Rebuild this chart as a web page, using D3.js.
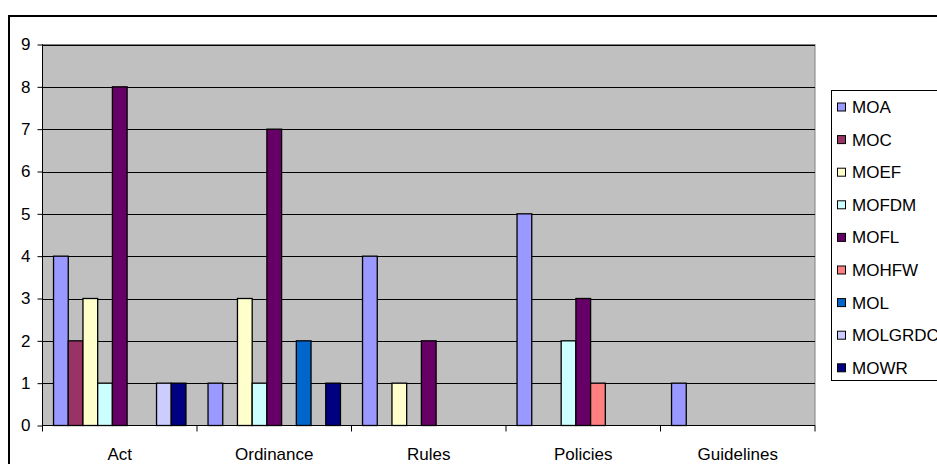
<!DOCTYPE html>
<html>
<head>
<meta charset="utf-8">
<script src="https://cdn.jsdelivr.net/npm/d3@7"></script>
<style>
  html, body { margin: 0; padding: 0; background: #fff; }
  svg { display: block; font-family: Arial, "Liberation Sans", sans-serif; }
</style>
</head>
<body>
<svg id="chart" width="937" height="464"></svg>
<script>
// Document types along the x axis
const categories = ["Act", "Ordinance", "Rules", "Policies", "Guidelines"];
// Ministries (one bar each per document type)
const seriesNames = ["MOA", "MOC", "MOEF", "MOFDM", "MOFL", "MOHFW", "MOL", "MOLGRDC", "MOWR"];
const seriesColors = ["#9999FF", "#993366", "#FFFFCC", "#CCFFFF", "#660066", "#FF8080", "#0066CC", "#CCCCFF", "#000080"];
// Counts per ministry, in category order
const MOA     = [4, 1, 4, 5, 1];
const MOC     = [2, 0, 0, 0, 0];
const MOEF    = [3, 3, 1, 0, 0];
const MOFDM   = [1, 1, 0, 2, 0];
const MOFL    = [8, 7, 2, 3, 0];
const MOHFW   = [0, 0, 0, 1, 0];
const MOL     = [0, 2, 0, 0, 0];
const MOLGRDC = [1, 0, 0, 0, 0];
const MOWR    = [1, 1, 0, 0, 0];
const seriesValues = [MOA, MOC, MOEF, MOFDM, MOFL, MOHFW, MOL, MOLGRDC, MOWR];
const yTicks = [0, 1, 2, 3, 4, 5, 6, 7, 8, 9];

const FONT = 17;
const svg = d3.select("#chart");

// Outer frame
svg.append("rect")
  .attr("x", 9).attr("y", 16)
  .attr("width", 960).attr("height", 480)
  .attr("fill", "#fff").attr("stroke", "#000").attr("stroke-width", 2);

const plot = { left: 42.5, right: 815, top: 44.5, bottom: 425.5 };

const x0 = d3.scaleBand().domain(categories).range([plot.left, plot.right]).paddingInner(0).paddingOuter(0);
// Bar slots: 9 bars plus a gap of 1.5 bar widths per group
const barW = x0.bandwidth() / (seriesNames.length + 1.5);
const x1 = d3.scaleBand().domain(seriesNames)
  .range([barW * 0.75, barW * 0.75 + barW * seriesNames.length]).padding(0);
const y = d3.scaleLinear().domain([0, 9]).range([plot.bottom, plot.top]);

// Plot background
svg.append("rect")
  .attr("x", plot.left).attr("y", plot.top)
  .attr("width", plot.right - plot.left).attr("height", plot.bottom - plot.top)
  .attr("fill", "#C0C0C0").attr("stroke", "#808080").attr("stroke-width", 1);

// Horizontal gridlines
svg.append("g").selectAll("line").data(yTicks.filter(d => d > 0)).join("line")
  .attr("x1", plot.left).attr("x2", plot.right)
  .attr("y1", d => Math.round(y(d)) + 0.5).attr("y2", d => Math.round(y(d)) + 0.5)
  .attr("stroke", "#000").attr("stroke-width", 1);

// Bars
const groups = svg.append("g").selectAll("g").data(categories).join("g")
  .attr("transform", c => `translate(${x0(c)},0)`);
groups.selectAll("rect")
  .data((c, ci) => seriesNames.map((s, si) => ({ s, si, v: seriesValues[si][ci] })).filter(d => d.v > 0))
  .join("rect")
  .attr("x", d => x1(d.s))
  .attr("y", d => y(d.v))
  .attr("width", x1.bandwidth())
  .attr("height", d => y(0) - y(d.v))
  .attr("fill", d => seriesColors[d.si])
  .attr("stroke", "#000").attr("stroke-width", 1.3);

// Y axis
const yAxis = svg.append("g")
  .attr("transform", `translate(${plot.left},0)`)
  .call(d3.axisLeft(y).tickValues(yTicks).tickSize(5).tickPadding(7).tickFormat(d3.format("d")));
yAxis.select(".domain").attr("stroke", "#000").attr("d", `M0,${plot.top}V${plot.bottom}`);
yAxis.selectAll("text").attr("font-size", FONT).attr("font-family", "Arial, 'Liberation Sans', sans-serif").attr("fill", "#000");

// X axis: ticks at category boundaries
const boundaries = categories.map(c => x0(c)).concat([plot.right]);
const xAxis = svg.append("g");
xAxis.append("line")
  .attr("x1", plot.left).attr("x2", plot.right)
  .attr("y1", plot.bottom).attr("y2", plot.bottom)
  .attr("stroke", "#000");
xAxis.selectAll("line.tick").data(boundaries).join("line")
  .attr("class", "tick")
  .attr("x1", d => d).attr("x2", d => d)
  .attr("y1", plot.bottom).attr("y2", plot.bottom + 6)
  .attr("stroke", "#000");
xAxis.selectAll("text").data(categories).join("text")
  .attr("x", c => x0(c) + x0.bandwidth() / 2)
  .attr("y", 460)
  .attr("text-anchor", "middle")
  .attr("font-size", FONT)
  .attr("fill", "#000")
  .text(c => c);

// Legend
const legend = svg.append("g");
legend.append("rect")
  .attr("x", 831.5).attr("y", 90.5)
  .attr("width", 140).attr("height", 290)
  .attr("fill", "#fff").attr("stroke", "#000").attr("stroke-width", 1);
const items = legend.selectAll("g").data(seriesNames).join("g")
  .attr("transform", (d, i) => `translate(0,${106.5 + i * 32.6})`);
items.append("rect")
  .attr("x", 837.5).attr("y", -3.5)
  .attr("width", 8).attr("height", 8)
  .attr("fill", (d, i) => seriesColors[i])
  .attr("stroke", "#000").attr("stroke-width", 1);
items.append("text")
  .attr("x", 852).attr("y", 6.5)
  .attr("font-size", FONT)
  .attr("fill", "#000")
  .text(d => d);
</script>
</body>
</html>
